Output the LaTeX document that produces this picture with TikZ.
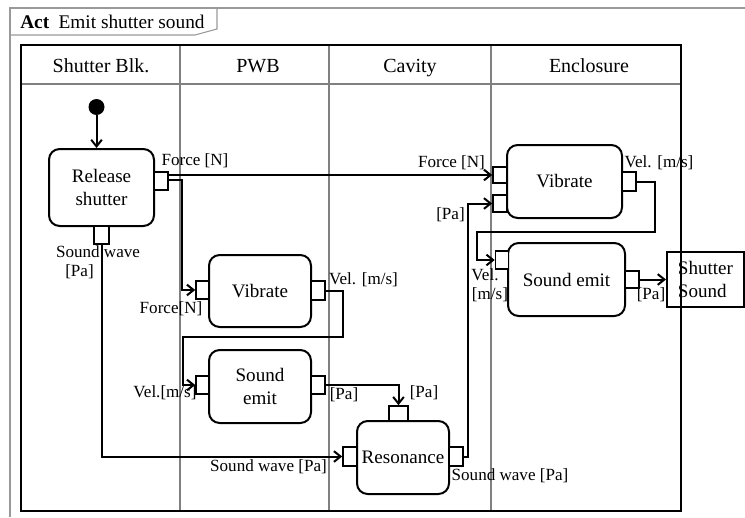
\documentclass[tikz,border=0pt]{standalone}
\usepackage{fontspec}
\setmainfont{Liberation Serif}
\usetikzlibrary{arrows.meta}
\begin{document}
\begin{tikzpicture}[x=0.75pt,y=-0.75pt,
  sz/.style n args={2}{minimum width=#1*0.75pt,minimum height=#2*0.75pt},
  act/.style={draw,line width=1.5pt,rounded corners=8pt,inner sep=0pt,align=center,font=\fontsize{14.3}{17}\selectfont},
  port/.style={draw,line width=1.2pt,fill=white,inner sep=0pt},
  flow/.style={line width=1.5pt,-{Straight Barb[length=5pt,width=8pt]}},
  lbl/.style={inner sep=0pt,font=\fontsize{12.8}{15}\selectfont},
  hdr/.style={inner sep=0pt,anchor=base,font=\fontsize{15}{18}\selectfont},
  lane/.style={draw=gray,line width=0.8pt},
  frame/.style={draw=gray!80,line width=0.8pt},
]
\useasboundingbox (0,0) rectangle (745,517);
% outer frame and tab
\draw[frame] (10,517) -- (10,8) -- (745,8);
\draw[frame] (10,35) -- (195,35) -- (217,29) -- (217,8);
\node[anchor=west,inner sep=0pt,font=\fontsize{14.5}{17}\selectfont] (title) at (20,22) {\textbf{Act}\hspace{7pt}Emit shutter sound};
% swimlanes
\draw[lane] (21,84) -- (681,84);
\draw[lane] (180,45) -- (180,511);
\draw[lane] (329,45) -- (329,511);
\draw[lane] (491,45) -- (491,511);
\draw[line width=1.1pt] (21,45) rectangle (681,511);
\node[hdr] (h1) at (101,72.5) {Shutter Blk.};
\node[hdr] (h2) at (258,72.5) {PWB};
\node[hdr] (h3) at (410,72.5) {Cavity};
\node[hdr] (h4) at (589,72.5) {Enclosure};
% actions
\node[act,sz={105}{77}] (rs) at (101.5,187.5) {Release\\shutter};
\node[act,sz={102}{72}] (pv) at (260,291) {Vibrate};
\node[act,sz={102}{73}] (ps) at (260,386.5) {Sound\\emit};
\node[act,sz={92}{73}] (res) at (403,457.5) {Resonance};
\node[act,sz={115}{73}] (ev) at (564.5,181.5) {Vibrate};
\node[act,sz={117}{73}] (es) at (566.5,279.5) {Sound emit};
\node[draw,line width=1.5pt,sz={77}{55},inner sep=0pt,align=left,font=\fontsize{14.3}{17}\selectfont] (ss) at (705.5,279.5) {Shutter\\Sound};
% ports
\node[port,sz={14}{18}] (rsF) at (161,181) {};
\node[port,sz={15}{18}] (rsS) at (101.5,235) {};
\node[port,sz={13}{18}] (pvF) at (202.5,290) {};
\node[port,sz={14}{19}] (pvV) at (318,290.5) {};
\node[port,sz={13}{18}] (psV) at (202.5,385) {};
\node[port,sz={14}{18}] (psP) at (318,385) {};
\node[port,sz={19}{15}] (resT) at (398.5,413.5) {};
\node[port,sz={14}{19}] (resL) at (350,456.5) {};
\node[port,sz={14}{19}] (resR) at (456,456.5) {};
\node[port,sz={14}{16}] (evF) at (500,175) {};
\node[port,sz={14}{17}] (evP) at (500,203.5) {};
\node[port,sz={14}{19}] (evV) at (629,181.5) {};
\node[port,sz={13}{18}] (esV) at (502,260) {};
\node[port,sz={14}{17}] (esP) at (632,279.5) {};
% initial node
\node[circle,fill,inner sep=0pt,minimum size=16*0.75pt] (init) at (96.5,107) {};
% connectors
\draw[flow] (init) -- (init |- rs.north);
\draw[flow] (rsF.east |- evF.west) -- (evF.west);
\coordinate (c2) at (182,180);
\draw[flow] (rsF.east |- c2) -- (c2) |- (pvF.west);
\coordinate (k1) at (343,337);
\coordinate (k2) at (183,337);
\draw[flow] (pvV.east) -| (k1) -- (k2) |- (psV.west);
\draw[flow] (psP.east) -| (resT.north);
\draw[flow] (rsS.south) |- (resL.west);
\coordinate (k3) at (468,0);
\draw[flow] (resR.east) -| (k3 |- evP.west) -- (evP.west);
\coordinate (k4) at (655,232);
\coordinate (k5) at (477,232);
\draw[flow] (evV.east) -| (k4) -- (k5) |- (esV.west);
\draw[flow] (esP.east) -- (esP.east -| ss.west);
% labels
\node[lbl] (l1) at (195,161) {Force [N]};
\node[lbl] (l2) at (98,252) {Sound wave};
\node[lbl] (l3) at (79.5,272) {[Pa]};
\node[lbl] (l4) at (171,309) {Force[N]};
\node[lbl] (l5) at (363.5,280) {Vel. [m/s]};
\node[lbl] (l6) at (165,393) {Vel.[m/s]};
\node[lbl] (l7) at (344,395) {[Pa]};
\node[lbl] (l8) at (424,393) {[Pa]};
\node[lbl] (l9) at (268.5,467) {Sound wave [Pa]};
\node[lbl] (l10) at (510,476) {Sound wave [Pa]};
\node[lbl] (l11) at (451.5,163) {Force [N]};
\node[lbl] (l12) at (450.5,215) {[Pa]};
\node[lbl] (l13) at (659,163) {Vel. [m/s]};
\node[lbl] (l14) at (485,275) {Vel.};
\node[lbl] (l15) at (490,295) {[m/s]};
\node[lbl] (l16) at (651,295) {[Pa]};
\end{tikzpicture}
\end{document}
